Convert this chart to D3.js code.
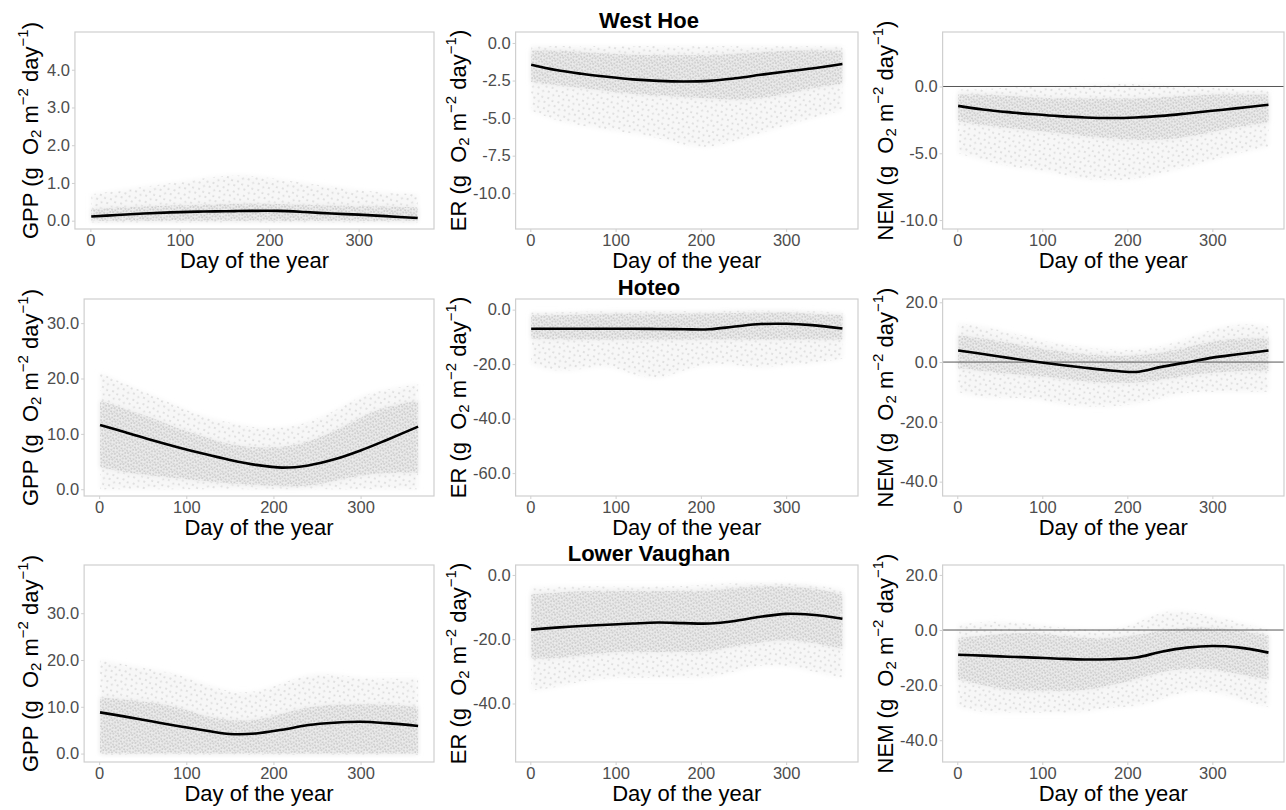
<!DOCTYPE html>
<html>
<head>
<meta charset="utf-8">
<script src="https://cdn.jsdelivr.net/npm/d3@7"></script>
<style>
  body { margin: 0; background: #fff; }
  svg { display: block; }
</style>
</head>
<body>
<script>
const WIDTH_SVG = 1286;
const HEIGHT_SVG = 810;
const FONT = "'Liberation Sans', Arial, Helvetica, sans-serif";

// ---- data ----
const days = [1, 30, 60, 90, 120, 150, 180, 210, 240, 270, 300, 330, 366];
const sites = ["West Hoe", "Hoteo", "Lower Vaughan"];
const metrics = ["GPP", "ER", "NEM"];
const xTicks = [0, 100, 200, 300];

// smoothed fits (one value per entry of `days`)
const westHoeGpp = [0.11, 0.15, 0.19, 0.22, 0.24, 0.25, 0.26, 0.26, 0.23, 0.19, 0.16, 0.12, 0.07];
const westHoeEr = [-1.45, -1.8, -2.05, -2.25, -2.42, -2.52, -2.56, -2.52, -2.35, -2.12, -1.9, -1.7, -1.4];
const westHoeNem = [-1.45, -1.72, -1.92, -2.08, -2.22, -2.32, -2.36, -2.32, -2.2, -2.02, -1.82, -1.62, -1.37];
const hoteoGpp = [11.6, 10.3, 8.9, 7.6, 6.4, 5.3, 4.4, 3.9, 4.3, 5.4, 7.0, 8.9, 11.3];
const hoteoEr = [-7.0, -7.0, -7.0, -7.0, -7.0, -7.1, -7.2, -7.2, -6.2, -5.3, -5.2, -5.7, -6.9];
const hoteoNem = [3.9, 2.7, 1.4, 0.2, -0.9, -1.9, -2.8, -3.3, -1.6, -0.1, 1.5, 2.6, 3.9];
const lowerVaughanGpp = [8.8, 7.9, 6.9, 5.9, 5.0, 4.2, 4.3, 5.1, 6.1, 6.6, 6.8, 6.5, 5.9];
const lowerVaughanEr = [-17.0, -16.4, -15.9, -15.5, -15.1, -14.8, -15.0, -15.1, -14.3, -13.0, -12.1, -12.4, -13.6];
const lowerVaughanNem = [-9.0, -9.3, -9.7, -10.0, -10.4, -10.7, -10.6, -10.0, -7.9, -6.4, -5.8, -6.3, -8.2];

// daily points: [low, high] of the dense core and of the sparse spread
const westHoeGppCore = [[0, 0.3], [0, 0.35], [0, 0.38], [0, 0.4], [0, 0.42], [0, 0.45], [0, 0.45], [0, 0.45], [0, 0.42], [0, 0.4], [0, 0.38], [0, 0.38], [0, 0.35]];
const westHoeGppSpread = [[-0.05, 0.7], [-0.05, 0.8], [-0.05, 0.9], [-0.05, 1.0], [-0.05, 1.1], [-0.05, 1.2], [-0.05, 1.2], [-0.05, 1.1], [-0.05, 1.0], [-0.05, 0.9], [-0.05, 0.8], [-0.05, 0.75], [-0.05, 0.7]];
const westHoeErCore = [[-2.6, -0.5], [-2.8, -0.5], [-3.0, -0.6], [-3.2, -0.7], [-3.4, -0.8], [-3.5, -0.8], [-3.6, -0.8], [-3.7, -0.8], [-3.8, -0.7], [-3.7, -0.6], [-3.4, -0.5], [-3.0, -0.5], [-2.7, -0.5]];
const westHoeErSpread = [[-4.5, -0.2], [-5.2, -0.2], [-5.5, -0.2], [-5.8, -0.2], [-6.0, -0.2], [-6.3, -0.2], [-6.8, -0.2], [-7.0, -0.2], [-6.5, -0.2], [-6.0, -0.2], [-5.5, -0.2], [-5.0, -0.2], [-4.5, -0.2]];
const westHoeNemCore = [[-2.6, -0.6], [-2.9, -0.6], [-3.1, -0.7], [-3.3, -0.8], [-3.5, -0.9], [-3.7, -0.9], [-3.9, -0.9], [-4.0, -0.9], [-4.0, -0.8], [-3.8, -0.7], [-3.4, -0.6], [-3.0, -0.6], [-2.7, -0.6]];
const westHoeNemSpread = [[-5.0, -0.2], [-5.5, -0.2], [-6.0, -0.1], [-6.2, 0], [-6.5, 0], [-7.0, 0.1], [-7.0, 0.2], [-7.0, 0.2], [-6.5, 0.1], [-6.0, 0], [-5.5, -0.1], [-5.0, -0.2], [-4.5, -0.2]];
const hoteoGppCore = [[4, 16], [3, 14.5], [2.5, 13], [2, 11], [1.5, 9.5], [1, 8], [0.8, 7.5], [0.5, 7.5], [0.5, 8.5], [1.5, 10.5], [2.5, 13], [3, 15], [3, 16]];
const hoteoGppSpread = [[0, 21], [0, 19], [0, 17], [0, 15], [0, 13], [0, 12], [0, 11], [0, 11], [0, 12], [0, 14], [0, 17], [0, 18], [0, 19]];
const hoteoErCore = [[-10.5, -2], [-11, -2], [-11, -1.8], [-11, -1.5], [-11, -1.5], [-11, -1.5], [-11, -1.5], [-11, -1.5], [-11, -1.2], [-11, -1], [-11, -1], [-11, -1.5], [-11, -2]];
const hoteoErSpread = [[-20, -1], [-23, -1], [-22, -0.8], [-20, -0.5], [-24, -0.5], [-26, -0.5], [-22, -0.5], [-20, -0.5], [-20, -0.3], [-22, -0.3], [-20, -0.3], [-20, -0.5], [-18, -1]];
const hoteoNemCore = [[-2, 9], [-3, 8], [-4, 6.5], [-4.5, 5], [-5.5, 3.5], [-6.5, 2.5], [-7, 2], [-7, 2], [-6, 3], [-4.5, 5], [-3.5, 7], [-3, 8], [-3, 8]];
const hoteoNemSpread = [[-10, 13], [-12, 12], [-12, 10], [-12, 8], [-14, 6], [-15, 5], [-15, 4], [-14, 4], [-12, 5], [-10, 8], [-10, 11], [-10, 13], [-10, 12]];
const lowerVaughanGppCore = [[0, 12], [0, 11.5], [0, 11], [0, 10], [0, 8], [0, 7], [0, 7], [0, 8.5], [0, 10], [0, 10.5], [0, 10.5], [0, 10.5], [0, 10]];
const lowerVaughanGppSpread = [[-0.3, 20], [-0.3, 19], [-0.3, 18], [-0.3, 17], [-0.3, 15], [-0.3, 13], [-0.3, 13], [-0.3, 15], [-0.3, 17], [-0.3, 17], [-0.3, 16], [-0.3, 16], [-0.3, 16]];
const lowerVaughanErCore = [[-26, -6], [-26, -5.5], [-25, -5], [-24, -5], [-24, -5], [-24, -5], [-24, -5], [-24, -5], [-22, -4], [-21, -3.5], [-20, -3.5], [-21, -4], [-23, -6]];
const lowerVaughanErSpread = [[-36, -4], [-35, -3.5], [-33, -3.5], [-32, -3.5], [-32, -3.5], [-32, -3.5], [-32, -3.5], [-32, -3], [-30, -2.5], [-28, -2.5], [-28, -2.5], [-30, -3], [-32, -4.5]];
const lowerVaughanNemCore = [[-18, -3], [-20, -2], [-22, -1], [-22, -1], [-22, -2], [-22, -3], [-20, -3], [-18, -2], [-15, 0], [-14, 1], [-14, 1], [-16, 0], [-18, -2]];
const lowerVaughanNemSpread = [[-28, 2], [-30, 3], [-30, 3], [-30, 2], [-30, 1], [-30, 0], [-28, 0], [-28, 2], [-25, 7], [-22, 7], [-22, 5], [-25, 3], [-28, 0]];

// y axis ranges and tick values (GPP, ER, NEM) per site
const westHoeLimits = [[-0.22, 5.0], [-12.38, 0.73], [-10.67, 4.08]];
const hoteoLimits = [[-1.22, 34.36], [-68.4, 3.9], [-44.8, 21.1]];
const lowerVaughanLimits = [[-1.8, 40.3], [-58.2, 3.1], [-47.9, 23.6]];
const westHoeTicks = [[0, 1, 2, 3, 4], [0, -2.5, -5, -7.5, -10], [0, -5, -10]];
const hoteoTicks = [[0, 10, 20, 30], [0, -20, -40, -60], [20, 0, -20, -40]];
const lowerVaughanTicks = [[0, 10, 20, 30], [0, -20, -40], [20, 0, -20, -40]];

// ---- layout ----
const COL_TITLE_X = [30, 458, 885];
const COL_LABEL_LEFT = [47, 473, 900];
const COL_RIGHT = [434, 858, 1284];
const ROW_TOP = [32, 299, 565];
const PANEL_H = 197;
const SITE_TITLE_X = 649;
const TICK_FONT = 16.5;
const TITLE_FONT = 22;

const rows = [
    { lines: [westHoeGpp, westHoeEr, westHoeNem],
      cores: [westHoeGppCore, westHoeErCore, westHoeNemCore],
      spreads: [westHoeGppSpread, westHoeErSpread, westHoeNemSpread],
      limits: westHoeLimits, ticks: westHoeTicks },
    { lines: [hoteoGpp, hoteoEr, hoteoNem],
      cores: [hoteoGppCore, hoteoErCore, hoteoNemCore],
      spreads: [hoteoGppSpread, hoteoErSpread, hoteoNemSpread],
      limits: hoteoLimits, ticks: hoteoTicks },
    { lines: [lowerVaughanGpp, lowerVaughanEr, lowerVaughanNem],
      cores: [lowerVaughanGppCore, lowerVaughanErCore, lowerVaughanNemCore],
      spreads: [lowerVaughanGppSpread, lowerVaughanErSpread, lowerVaughanNemSpread],
      limits: lowerVaughanLimits, ticks: lowerVaughanTicks }
];

const svg = d3.select("body")
    .append("svg")
        .attr("width", WIDTH_SVG)
        .attr("height", HEIGHT_SVG)
        .attr("viewBox", `0 0 ${WIDTH_SVG} ${HEIGHT_SVG}`)
        .style("font-family", FONT);

// dot textures for the point clouds
const defs = svg.append("defs");
function makeDots(id, size, pts, r, color) {
    const p = defs.append("pattern")
        .attr("id", id)
        .attr("patternUnits", "userSpaceOnUse")
        .attr("width", size)
        .attr("height", size)
        .attr("patternTransform", "rotate(23)");
    pts.forEach(pt => {
        p.append("circle")
            .attr("cx", pt[0]).attr("cy", pt[1]).attr("r", r)
            .attr("fill", color);
    });
}
makeDots("denseDots", 6, [[1, 1], [4.2, 2.1], [2.3, 4.4], [5.1, 5.2]], 1.0, "#c9c9c9");
makeDots("sparseDots", 11, [[2, 2], [7.5, 3.5], [4, 8], [9, 9.3]], 1.0, "#d9d9d9");

// soft edges for the clouds
defs.append("filter").attr("id", "soft")
    .attr("x", "-10%").attr("y", "-20%").attr("width", "120%").attr("height", "140%")
    .append("feGaussianBlur").attr("stdDeviation", 2.5);

// x range: data range plus 5% either side, like ggplot
const dayExt = d3.extent(days);
const pad = (dayExt[1] - dayExt[0]) * 0.05;
const xDomain = [dayExt[0] - pad, dayExt[1] + pad];

const tickFmt = t => t.toFixed(1);

function yTitle(g, metric, cx, cy) {
    const t = g.append("text")
        .attr("transform", `translate(${cx},${cy}) rotate(-90)`)
        .attr("text-anchor", "middle")
        .attr("dominant-baseline", "central")
        .attr("font-size", TITLE_FONT)
        .attr("fill", "#000")
        .style("white-space", "pre");
    t.append("tspan").text(metric + " (g  O");
    t.append("tspan").attr("font-size", 15).attr("dy", 5).text("2");
    t.append("tspan").attr("dy", -5).text(" m");
    t.append("tspan").attr("font-size", 15).attr("dy", -8).text("\u22122");
    t.append("tspan").attr("dy", 8).text(" day");
    t.append("tspan").attr("font-size", 15).attr("dy", -8).text("\u22121");
    t.append("tspan").attr("dy", 8).text(")");
}

function drawPanel(r, c) {
    const row = rows[r];
    const top = ROW_TOP[r];
    const bottom = top + PANEL_H;
    const ticks = row.ticks[c];

    // leave room for the widest tick label
    const meas = svg.append("text").attr("font-size", TICK_FONT);
    let maxW = 0;
    ticks.forEach(t => {
        meas.text(tickFmt(t));
        maxW = Math.max(maxW, meas.node().getComputedTextLength());
    });
    meas.remove();
    const left = COL_LABEL_LEFT[c] + maxW + 5;
    const right = COL_RIGHT[c];

    const x = d3.scaleLinear().domain(xDomain).range([left, right]);
    const y = d3.scaleLinear().domain(row.limits[c]).range([bottom, top]);

    const g = svg.append("g");
    const clipId = `clip-${r}-${c}`;
    defs.append("clipPath").attr("id", clipId)
        .append("rect")
        .attr("x", left).attr("y", top)
        .attr("width", right - left).attr("height", PANEL_H);

    const plot = g.append("g").attr("clip-path", `url(#${clipId})`);

    const area = d3.area()
        .x((d, i) => x(days[i]))
        .y0(d => y(d[0]))
        .y1(d => y(d[1]))
        .curve(d3.curveBasis);

    // sparse spread of points
    plot.append("path").datum(row.spreads[c]).attr("d", area)
        .attr("fill", "#f7f7f7").attr("filter", "url(#soft)");
    plot.append("path").datum(row.spreads[c]).attr("d", area).attr("fill", "url(#sparseDots)");
    // dense core of points
    plot.append("path").datum(row.cores[c]).attr("d", area)
        .attr("fill", "#ebebeb").attr("filter", "url(#soft)");
    plot.append("path").datum(row.cores[c]).attr("d", area).attr("fill", "url(#denseDots)");

    // zero reference for NEM
    if (metrics[c] === "NEM") {
        plot.append("line")
            .attr("x1", left).attr("x2", right)
            .attr("y1", y(0)).attr("y2", y(0))
            .attr("stroke", "#555")
            .attr("stroke-width", 1);
    }

    const line = d3.line()
        .x((d, i) => x(days[i]))
        .y(d => y(d))
        .curve(d3.curveCatmullRom);
    plot.append("path")
        .datum(row.lines[c])
        .attr("d", line)
        .attr("fill", "none")
        .attr("stroke", "#000")
        .attr("stroke-width", 2.6);

    // axes
    const gx = g.append("g")
        .attr("transform", `translate(0,${bottom})`)
        .call(d3.axisBottom(x).tickValues(xTicks).tickSize(3).tickPadding(2).tickFormat(d3.format("d")));
    const gy = g.append("g")
        .attr("transform", `translate(${left},0)`)
        .call(d3.axisLeft(y).tickValues(ticks).tickSize(3).tickPadding(2).tickFormat(tickFmt));
    [gx, gy].forEach(a => {
        a.attr("font-family", FONT).attr("font-size", TICK_FONT);
        a.select(".domain").remove();
        a.selectAll(".tick line").attr("stroke", "#cfcfcf");
        a.selectAll(".tick text").attr("fill", "#4d4d4d");
    });

    // frame
    g.append("rect")
        .attr("x", left).attr("y", top)
        .attr("width", right - left).attr("height", PANEL_H)
        .attr("fill", "none")
        .attr("stroke", "#cfcfcf")
        .attr("stroke-width", 1.2);

    // axis titles
    g.append("text")
        .attr("x", (left + right) / 2)
        .attr("y", bottom + 39)
        .attr("text-anchor", "middle")
        .attr("font-size", TITLE_FONT)
        .attr("fill", "#000")
        .text("Day of the year");
    yTitle(g, metrics[c], COL_TITLE_X[c], (top + bottom) / 2);

    if (c === 1) {
        g.append("text")
            .attr("x", SITE_TITLE_X)
            .attr("y", top - 4.5)
            .attr("text-anchor", "middle")
            .attr("font-size", TITLE_FONT)
            .attr("font-weight", "bold")
            .attr("fill", "#000")
            .text(sites[r]);
    }
}

for (let r = 0; r < rows.length; r++) {
    for (let c = 0; c < metrics.length; c++) {
        drawPanel(r, c);
    }
}
</script>
</body>
</html>
